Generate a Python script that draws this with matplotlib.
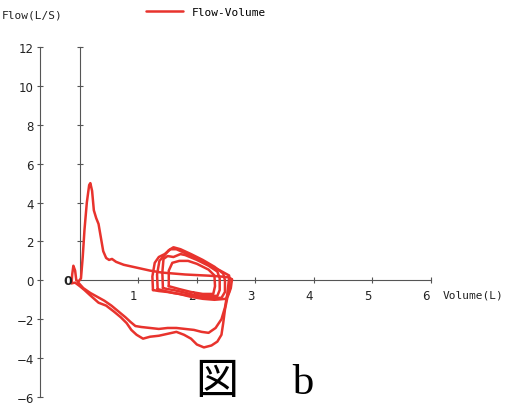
import matplotlib
matplotlib.use("Agg")
import matplotlib.pyplot as plt
import matplotlib.transforms as mtransforms

# forced expiration (peak ~5 L/s)
exp_vol = [-0.14, -0.13, -0.11, -0.08, -0.06, -0.02, 0.02, 0.05, 0.08, 0.12, 0.16, 0.18, 0.21,
           0.24, 0.28, 0.32, 0.36, 0.40, 0.45, 0.50, 0.55, 0.62, 0.75, 0.90, 1.05, 1.20,
           1.40, 1.60, 1.80, 2.00, 2.20, 2.40, 2.55, 2.60]
exp_flow = [-0.15, 0.3, 0.75, 0.5, 0.0, -0.05, 0.1, 1.2, 2.6, 4.0, 4.9, 5.0, 4.6,
            3.6, 3.2, 2.9, 2.2, 1.5, 1.15, 1.05, 1.1, 0.95, 0.8, 0.7, 0.6, 0.5,
            0.4, 0.35, 0.3, 0.27, 0.24, 0.2, 0.15, 0.05]

# first inspiration (outer loop)
insp1_vol = [2.60, 2.58, 2.52, 2.48, 2.45, 2.42, 2.35, 2.25, 2.12, 2.00, 1.90, 1.78, 1.65,
             1.50, 1.35, 1.20, 1.08, 0.97, 0.88, 0.80, 0.70, 0.58, 0.45, 0.32, 0.17,
             0.08, 0.00, -0.08, -0.14]
insp1_flow = [0.05, -0.4, -0.9, -1.5, -2.2, -2.8, -3.15, -3.35, -3.45, -3.3, -3.0, -2.8, -2.65,
              -2.75, -2.85, -2.9, -3.0, -2.8, -2.55, -2.2, -1.9, -1.6, -1.3, -1.15, -0.75,
              -0.5, -0.3, -0.12, -0.15]

# second inspiration, slightly inside the first
insp2_vol = [2.55, 2.52, 2.48, 2.42, 2.32, 2.20, 2.08, 1.95, 1.80, 1.65, 1.50, 1.35, 1.20,
             1.05, 0.95, 0.87, 0.78, 0.66, 0.54, 0.42, 0.30, 0.18, 0.06, -0.03]
insp2_flow = [0.1, -0.7, -1.4, -2.0, -2.45, -2.7, -2.65, -2.55, -2.5, -2.45, -2.45, -2.5, -2.45,
              -2.4, -2.35, -2.15, -1.9, -1.6, -1.3, -1.05, -0.85, -0.65, -0.4, -0.1]

# tidal breaths (box-like small loops)
tid1_vol = [1.25, 1.24, 1.28, 1.35, 1.45, 1.55, 1.65, 1.80, 2.00, 2.20, 2.40, 2.55, 2.56,
            2.55, 2.50, 2.30, 2.10, 1.90, 1.70, 1.50, 1.35, 1.25]
tid1_flow = [-0.5, 0.2, 0.9, 1.2, 1.35, 1.6, 1.6, 1.4, 1.1, 0.8, 0.5, 0.25, 0.0,
             -0.6, -0.95, -1.0, -0.95, -0.85, -0.7, -0.6, -0.55, -0.5]
tid2_vol = [1.33, 1.32, 1.36, 1.45, 1.52, 1.60, 1.72, 1.90, 2.10, 2.30, 2.45, 2.48, 2.48,
            2.42, 2.20, 2.00, 1.80, 1.60, 1.45, 1.33]
tid2_flow = [-0.45, 0.3, 1.0, 1.3, 1.55, 1.7, 1.6, 1.35, 1.05, 0.7, 0.35, 0.0, -0.6,
             -0.9, -0.9, -0.85, -0.75, -0.65, -0.55, -0.45]
tid3_vol = [1.42, 1.41, 1.43, 1.50, 1.60, 1.72, 1.80, 2.00, 2.20, 2.35, 2.39, 2.39, 2.35,
            2.15, 1.95, 1.75, 1.60, 1.50, 1.42]
tid3_flow = [-0.4, 0.4, 1.1, 1.25, 1.2, 1.35, 1.3, 1.05, 0.75, 0.45, 0.1, -0.5, -0.8,
             -0.8, -0.75, -0.6, -0.5, -0.45, -0.4]
tid4_vol = [1.52, 1.52, 1.58, 1.70, 1.85, 2.00, 2.20, 2.30, 2.31, 2.28, 2.10, 1.90, 1.70, 1.52]
tid4_flow = [-0.3, 0.5, 0.9, 1.0, 1.0, 0.85, 0.55, 0.25, -0.3, -0.7, -0.7, -0.6, -0.45, -0.3]

segments = [(exp_vol, exp_flow), (insp1_vol, insp1_flow), (insp2_vol, insp2_flow),
            (tid1_vol, tid1_flow), (tid2_vol, tid2_flow), (tid3_vol, tid3_flow),
            (tid4_vol, tid4_flow)]

x_ticks = [1, 2, 3, 4, 5, 6]
y_ticks = [-6, -4, -2, 0, 2, 4, 6, 8, 10, 12]
red = "#e8332d"

fig = plt.figure(figsize=(5.14, 4.10), dpi=100)
ax = fig.add_axes([40 / 514, 1 - 398 / 410, (431 - 40) / 514, (398 - 48) / 410])
ax.set_xlim(-0.68, 6.0)
ax.set_ylim(-6, 12)

for i, (v, f) in enumerate(segments):
    ax.plot(v, f, color=red, lw=1.8, solid_capstyle="round", solid_joinstyle="round",
            label="Flow-Volume" if i == 0 else None, zorder=3)

for side in ["top", "right"]:
    ax.spines[side].set_visible(False)
ax.spines["left"].set_color("#555555")
ax.spines["left"].set_linewidth(0.8)
ax.spines["bottom"].set_position(("data", 0))
ax.spines["bottom"].set_bounds(0, 6)
ax.spines["bottom"].set_color("#555555")
ax.spines["bottom"].set_linewidth(0.8)

ax.set_yticks(y_ticks)
ax.set_yticklabels([str(t).replace("-", "\u2212") for t in y_ticks])
ax.set_xticks(x_ticks)
ax.set_xticklabels([str(t) for t in x_ticks])
ax.tick_params(axis="both", direction="inout", length=5, width=0.8, color="#555555",
               labelsize=8.5, labelcolor="#222222")
ax.tick_params(axis="x", pad=4)
ax.tick_params(axis="y", pad=2)
shift = mtransforms.ScaledTranslation(-5 / 100, 0, fig.dpi_scale_trans)
for lbl in ax.get_xticklabels():
    lbl.set_transform(lbl.get_transform() + shift)

# vertical axis through volume = 0
sec = ax.secondary_yaxis(0.68 / 6.68)
sec.spines["left"].set_bounds(0, 12)
sec.spines["left"].set_color("#555555")
sec.spines["left"].set_linewidth(0.8)
sec.set_yticks([2, 4, 6, 8, 10, 12])
sec.set_yticklabels([])
sec.tick_params(direction="inout", length=5, width=0.8, color="#555555")

ax.text(0, 0, "0", transform=ax.transData + mtransforms.ScaledTranslation(-12 / 100, 0, fig.dpi_scale_trans),
        ha="center", va="center", fontsize=9, fontweight="bold", color="#222222")
ax.text(6, 0, "Volume(L)", transform=ax.transData + mtransforms.ScaledTranslation(12 / 100, -14 / 100, fig.dpi_scale_trans),
        ha="left", va="center", fontsize=8, family="DejaVu Sans Mono", color="#222222")
fig.text(2 / 514, 1 - 16 / 410, "Flow(L/S)", ha="left", va="center", fontsize=8,
         family="DejaVu Sans Mono", color="#222222")

fig.legend(loc="center left", bbox_to_anchor=(136 / 514, 1 - 13 / 410), frameon=False,
           handlelength=3.3, handletextpad=0.8, prop={"family": "DejaVu Sans Mono", "size": 8})

fig.text(255 / 514, 1 - 384 / 410, "図\u3000 b", ha="center", va="center", fontsize=31,
         family=["Liberation Serif", "Noto Sans CJK JP"], color="black")

fig.savefig("out.png", dpi=100)
